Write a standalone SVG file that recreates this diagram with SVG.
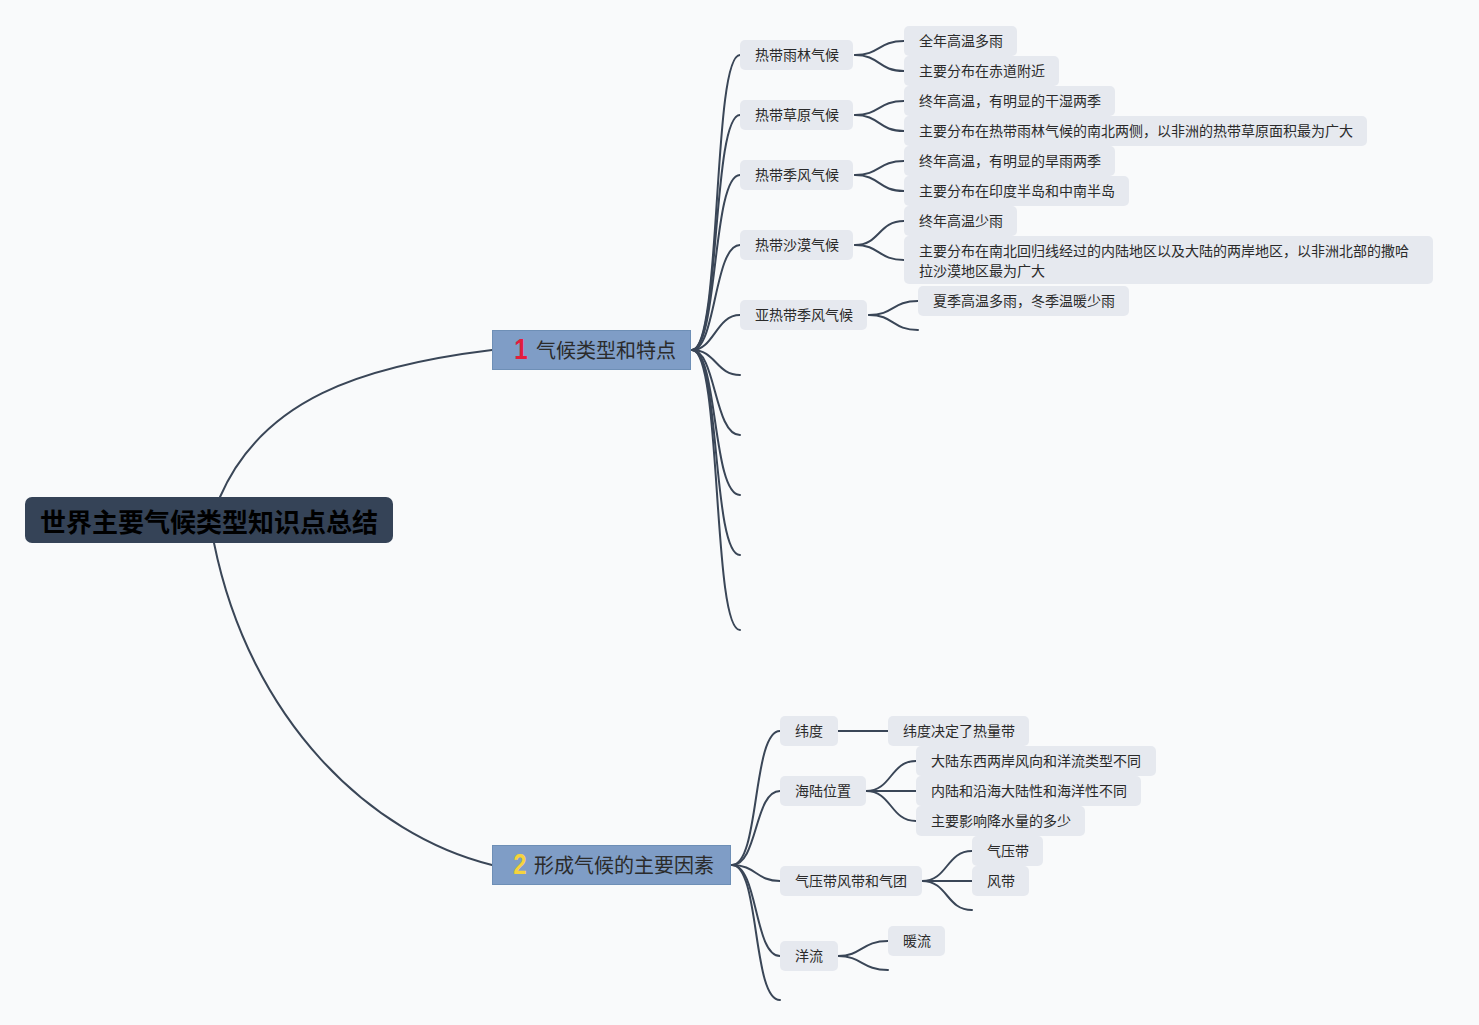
<svg xmlns="http://www.w3.org/2000/svg" width="1479" height="1025" viewBox="0 0 1479 1025">
<style>
text{font-family:"Noto Sans CJK SC","Noto Sans",sans-serif;fill:#2b2b2b;dominant-baseline:central}
.ln{fill:none;stroke:#3a4657;stroke-width:2;stroke-linecap:round}
.sub{fill:#e6e9ef}
.lf{fill:#e6e9ef}
.t14{font-size:14px}
.topic{fill:#7f9dc6;stroke:#6e8fb6;stroke-width:1}
.t20{font-size:20px}
.num{font-family:"Liberation Sans",sans-serif;font-size:30px;font-weight:bold}
</style>
<rect width="1479" height="1025" fill="#f9fafb"/>
<g id="connectors">
<path class="ln" d="M220,497 C262,400 360,366 492,350"/>
<path class="ln" d="M214,543 C250,720 370,835 492,865"/>
<path class="ln" d="M692,350 C722,350 712,55 740,55"/>
<path class="ln" d="M692,350 C720,350 712,115 740,115"/>
<path class="ln" d="M692,350 C718,350 712,175 740,175"/>
<path class="ln" d="M692,350 C716,350 714,245 740,245"/>
<path class="ln" d="M692,350 C714,350 716,315 740,315"/>
<path class="ln" d="M692,350 C716,350 716,375 740,375"/>
<path class="ln" d="M692,350 C716,350 714,435 740,435"/>
<path class="ln" d="M692,350 C718,350 712,495 740,495"/>
<path class="ln" d="M692,350 C720,350 712,555 740,555"/>
<path class="ln" d="M692,350 C722,350 712,630 740,630"/>
<path class="ln" d="M855,55 C880,55 878,41 904,41"/>
<path class="ln" d="M855,55 C880,55 878,71 904,71"/>
<path class="ln" d="M855,115 C880,115 878,101 904,101"/>
<path class="ln" d="M855,115 C880,115 878,131 904,131"/>
<path class="ln" d="M855,175 C880,175 878,161 904,161"/>
<path class="ln" d="M855,175 C880,175 878,191 904,191"/>
<path class="ln" d="M855,245 C880,245 878,221 904,221"/>
<path class="ln" d="M855,245 C880,245 878,260 904,260"/>
<path class="ln" d="M869,315 C894,315 892,301 918,301"/>
<path class="ln" d="M869,315 C894,315 892,330 918,330"/>
<path class="ln" d="M732,865 C760,865 752,731 780,731"/>
<path class="ln" d="M732,865 C758,865 754,791 780,791"/>
<path class="ln" d="M732,865 C756,865 756,881 780,881"/>
<path class="ln" d="M732,865 C758,865 754,956 780,956"/>
<path class="ln" d="M732,865 C760,865 752,1000 780,1000"/>
<path class="ln" d="M838,731 L888,731"/>
<path class="ln" d="M866,791 C892,791 890,761 916,761"/>
<path class="ln" d="M866,791 L916,791"/>
<path class="ln" d="M866,791 C892,791 890,821 916,821"/>
<path class="ln" d="M922,881 C948,881 946,851 972,851"/>
<path class="ln" d="M922,881 L972,881"/>
<path class="ln" d="M922,881 C948,881 946,910 972,910"/>
<path class="ln" d="M838,956 C862,956 862,941 888,941"/>
<path class="ln" d="M838,956 C862,956 862,970 888,970"/>
</g>
<g id="root">
<rect x="25" y="497" width="368" height="46" rx="7" fill="#354357"/>
<text x="209" y="520" font-size="26" font-weight="bold" text-anchor="middle" style="fill:#000">世界主要气候类型知识点总结</text>
</g>
<g id="topic1">
<rect class="topic" x="492.5" y="330.5" width="198" height="39"/>
<text x="521" y="349" class="num" text-anchor="middle" transform="translate(521 349) scale(0.8 1) translate(-521 -349)" style="fill:#e31e3c">1</text>
<text x="536" y="349" class="t20">气候类型和特点</text>
</g>
<g id="topic2">
<rect class="topic" x="492.5" y="845.5" width="238" height="39"/>
<text x="520" y="864" class="num" text-anchor="middle" transform="translate(520 864) scale(0.8 1) translate(-520 -864)" style="fill:#f6d33c">2</text>
<text x="534" y="864" class="t20">形成气候的主要因素</text>
</g>
<g id="s1"><rect class="sub" x="740" y="40" width="113" height="30" rx="5"/><text class="t14" x="755" y="54">热带雨林气候</text></g>
<g id="s2"><rect class="sub" x="740" y="100" width="113" height="30" rx="5"/><text class="t14" x="755" y="114">热带草原气候</text></g>
<g id="s3"><rect class="sub" x="740" y="160" width="113" height="30" rx="5"/><text class="t14" x="755" y="174">热带季风气候</text></g>
<g id="s4"><rect class="sub" x="740" y="230" width="113" height="30" rx="5"/><text class="t14" x="755" y="244">热带沙漠气候</text></g>
<g id="s5"><rect class="sub" x="740" y="300" width="127" height="30" rx="5"/><text class="t14" x="755" y="314">亚热带季风气候</text></g>
<g id="l1"><rect class="lf" x="904" y="26" width="113" height="30" rx="5"/><text class="t14" x="919" y="40">全年高温多雨</text></g>
<g id="l2"><rect class="lf" x="904" y="56" width="155" height="30" rx="5"/><text class="t14" x="919" y="70">主要分布在赤道附近</text></g>
<g id="l3"><rect class="lf" x="904" y="86" width="211" height="30" rx="5"/><text class="t14" x="919" y="100">终年高温，有明显的干湿两季</text></g>
<g id="l4"><rect class="lf" x="904" y="116" width="463" height="30" rx="5"/><text class="t14" x="919" y="130">主要分布在热带雨林气候的南北两侧，以非洲的热带草原面积最为广大</text></g>
<g id="l5"><rect class="lf" x="904" y="146" width="211" height="30" rx="5"/><text class="t14" x="919" y="160">终年高温，有明显的旱雨两季</text></g>
<g id="l6"><rect class="lf" x="904" y="176" width="225" height="30" rx="5"/><text class="t14" x="919" y="190">主要分布在印度半岛和中南半岛</text></g>
<g id="l7"><rect class="lf" x="904" y="206" width="113" height="30" rx="5"/><text class="t14" x="919" y="220">终年高温少雨</text></g>
<g id="l8"><rect class="lf" x="904" y="236" width="529" height="48" rx="5"/><text class="t14" x="919" y="250">主要分布在南北回归线经过的内陆地区以及大陆的两岸地区，以非洲北部的撒哈</text><text class="t14" x="919" y="270">拉沙漠地区最为广大</text></g>
<g id="l9"><rect class="lf" x="918" y="286" width="211" height="30" rx="5"/><text class="t14" x="933" y="300">夏季高温多雨，冬季温暖少雨</text></g>
<g id="f1"><rect class="sub" x="780" y="716" width="58" height="30" rx="5"/><text class="t14" x="795" y="730">纬度</text></g>
<g id="f2"><rect class="sub" x="780" y="776" width="86" height="30" rx="5"/><text class="t14" x="795" y="790">海陆位置</text></g>
<g id="f3"><rect class="sub" x="780" y="866" width="142" height="30" rx="5"/><text class="t14" x="795" y="880">气压带风带和气团</text></g>
<g id="f4"><rect class="sub" x="780" y="941" width="58" height="30" rx="5"/><text class="t14" x="795" y="955">洋流</text></g>
<g id="g1"><rect class="lf" x="888" y="716" width="141" height="30" rx="5"/><text class="t14" x="903" y="730">纬度决定了热量带</text></g>
<g id="g2"><rect class="lf" x="916" y="746" width="240" height="30" rx="5"/><text class="t14" x="931" y="760">大陆东西两岸风向和洋流类型不同</text></g>
<g id="g3"><rect class="lf" x="916" y="776" width="225" height="30" rx="5"/><text class="t14" x="931" y="790">内陆和沿海大陆性和海洋性不同</text></g>
<g id="g4"><rect class="lf" x="916" y="806" width="169" height="30" rx="5"/><text class="t14" x="931" y="820">主要影响降水量的多少</text></g>
<g id="g5"><rect class="lf" x="972" y="836" width="71" height="30" rx="5"/><text class="t14" x="987" y="850">气压带</text></g>
<g id="g6"><rect class="lf" x="972" y="866" width="57" height="30" rx="5"/><text class="t14" x="987" y="880">风带</text></g>
<g id="g7"><rect class="lf" x="888" y="926" width="57" height="30" rx="5"/><text class="t14" x="903" y="940">暖流</text></g>
</svg>
